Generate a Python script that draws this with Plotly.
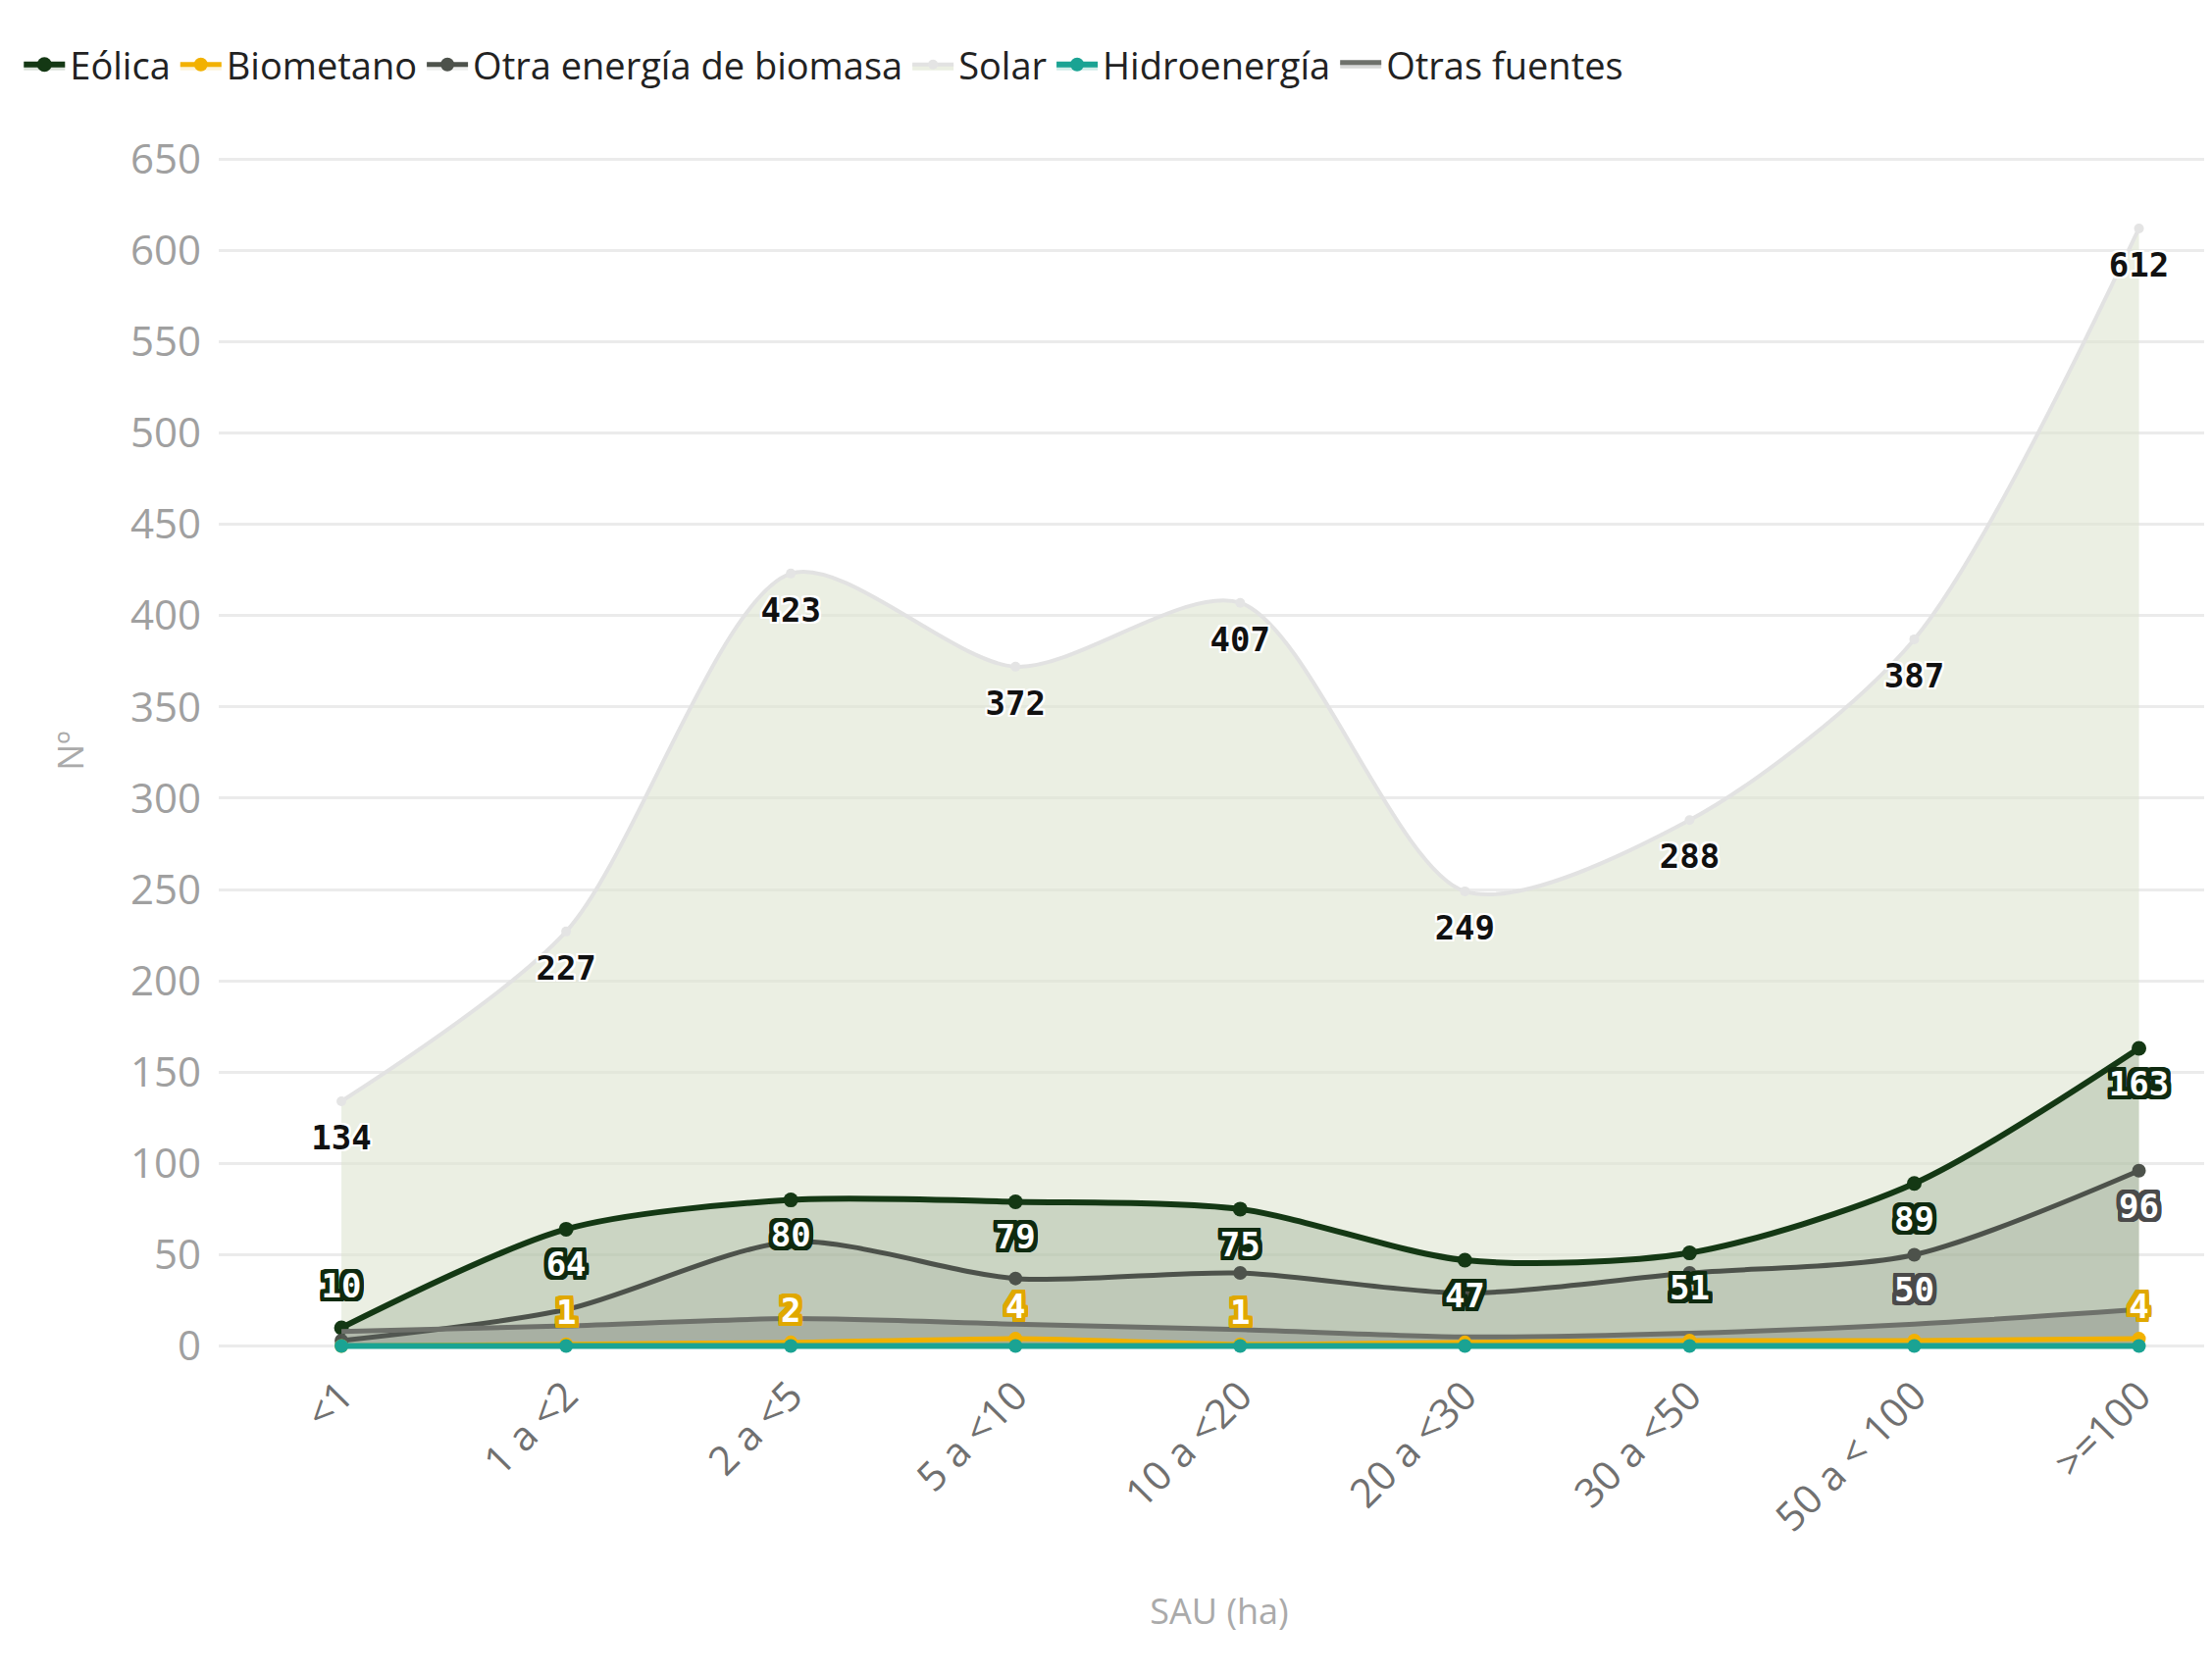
import plotly.graph_objects as go

categories = ["<1", "1 a <2", "2 a <5", "5 a <10", "10 a <20", "20 a <30", "30 a <50", "50 a < 100", ">=100"]

solar = [134, 227, 423, 372, 407, 249, 288, 387, 612]
eolica = [10, 64, 80, 79, 75, 47, 51, 89, 163]
biomasa = [3, 20, 57, 37, 40, 29, 40, 50, 96]
otras = [8, 11, 15, 12, 9, 5, 7, 12, 20]
biometano = [0, 1, 2, 4, 1, 2, 3, 3, 4]
hidro = [0, 0, 0, 0, 0, 0, 0, 0, 0]

# which data labels are visible in the reference (others hidden by overlap)
eolica_show = [True] * 9
biomasa_show = [False, False, False, False, False, False, False, True, True]
biometano_show = [False, True, True, True, True, False, False, False, True]
solar_show = [True] * 9


def labels(vals, show):
    return [str(v) if s else "" for v, s in zip(vals, show)]


def outline(c, w=3):
    pts = []
    for dx in range(-w, w + 1):
        for dy in range(-w, w + 1):
            if dx or dy:
                pts.append(f"{dx}px {dy}px 0 {c}")
    return ", ".join(pts)


LABEL_FONT = "DejaVu Sans Mono"
LABEL_SIZE = 34
spline = dict(shape="spline", smoothing=0.8)

fig = go.Figure()


def add_labels(vals, show, pos, color, halo, halo_w, offset_size):
    # text-only trace; an invisible marker sets the label distance from the point
    fig.add_trace(go.Scatter(
        x=categories, y=vals, mode="markers+text", showlegend=False, hoverinfo="skip",
        marker=dict(size=offset_size, color="rgba(0,0,0,0)"),
        text=labels(vals, show), textposition=pos,
        textfont=dict(family=LABEL_FONT, size=LABEL_SIZE, color=color, weight="bold",
                      shadow=outline(halo, halo_w)),
        cliponaxis=False,
    ))


# Solar (back)
fig.add_trace(go.Scatter(
    x=categories, y=solar, name="Solar", mode="lines+markers",
    line=dict(color="#e2e2e2", width=4, **spline),
    marker=dict(color="#e4e4e4", size=10),
    fill="tozeroy", fillcolor="rgba(222,228,208,0.6)",
    legendrank=4,
))

# Eólica
fig.add_trace(go.Scatter(
    x=categories, y=eolica, name="Eólica", mode="lines+markers",
    line=dict(color="#143814", width=6, **spline),
    marker=dict(color="#143814", size=15),
    fill="tozeroy", fillcolor="rgba(40,80,30,0.16)",
    legendrank=1,
))

# Otra energía de biomasa
fig.add_trace(go.Scatter(
    x=categories, y=biomasa, name="Otra energía de biomasa", mode="lines+markers",
    line=dict(color="#4d524b", width=5, **spline),
    marker=dict(color="#4d524b", size=14),
    fill="tozeroy", fillcolor="rgba(90,95,85,0.10)",
    legendrank=3,
))

# Otras fuentes
fig.add_trace(go.Scatter(
    x=categories, y=otras, name="Otras fuentes", mode="lines",
    line=dict(color="#6e716b", width=5, **spline),
    fill="tozeroy", fillcolor="rgba(100,104,98,0.25)",
    legendrank=6,
))

# Biometano
fig.add_trace(go.Scatter(
    x=categories, y=biometano, name="Biometano", mode="lines+markers",
    line=dict(color="#f2b100", width=5, **spline),
    marker=dict(color="#f2b100", size=14),
    fill="tozeroy", fillcolor="rgba(242,177,0,0.15)",
    legendrank=2,
))

# Hidroenergía
fig.add_trace(go.Scatter(
    x=categories, y=hidro, name="Hidroenergía", mode="lines+markers",
    line=dict(color="#1aa393", width=6, **spline),
    marker=dict(color="#1aa393", size=14),
    fill="tozeroy", fillcolor="rgba(26,163,147,0.2)",
    legendrank=5,
))

# data labels
add_labels(solar, solar_show, "bottom center", "#111111", "#ffffff", 2, 36)
add_labels(eolica, eolica_show, ["top center"] + ["bottom center"] * 8, "#ffffff", "#0f2a0f", 4, 34)
add_labels(biomasa, biomasa_show, "bottom center", "#ffffff", "#4a4a4a", 4, 34)
add_labels(biometano, biometano_show, "top center", "#ffffff", "#e0a800", 4, 18)

fig.update_layout(
    width=2255, height=1708,
    paper_bgcolor="#ffffff", plot_bgcolor="#ffffff",
    margin=dict(l=215, r=0, t=143, b=336),
    font=dict(family="Open Sans", color="#333333"),
    showlegend=True,
    legend=dict(orientation="h", x=0.005, y=0.966, xref="container", yref="container",
                xanchor="left", yanchor="middle",
                font=dict(family="Open Sans", size=38, color="#222222"),
                itemwidth=42, traceorder="normal", bgcolor="rgba(0,0,0,0)"),
    xaxis=dict(
        type="category", range=[-0.546, 8.36],
        showgrid=False, zeroline=False, showline=False,
        tickangle=-45, ticks="",
        ticklabelstandoff=10,
        tickfont=dict(family="Open Sans", size=41, color="#707070"),
        title=dict(text="SAU (ha)", standoff=59,
                   font=dict(family="Open Sans", size=36, color="#aaaaaa")),
    ),
    yaxis=dict(
        range=[-4, 656], dtick=50, tick0=0,
        showgrid=True, gridcolor="#ebebeb", gridwidth=3,
        zeroline=False, showline=False, ticks="",
        ticklabelstandoff=17,
        tickfont=dict(family="Open Sans", size=42, color="#a0a0a0"),
        title=dict(text="Nº", standoff=36,
                   font=dict(family="Open Sans", size=36, color="#aaaaaa")),
    ),
)

fig.write_html("out.html")
